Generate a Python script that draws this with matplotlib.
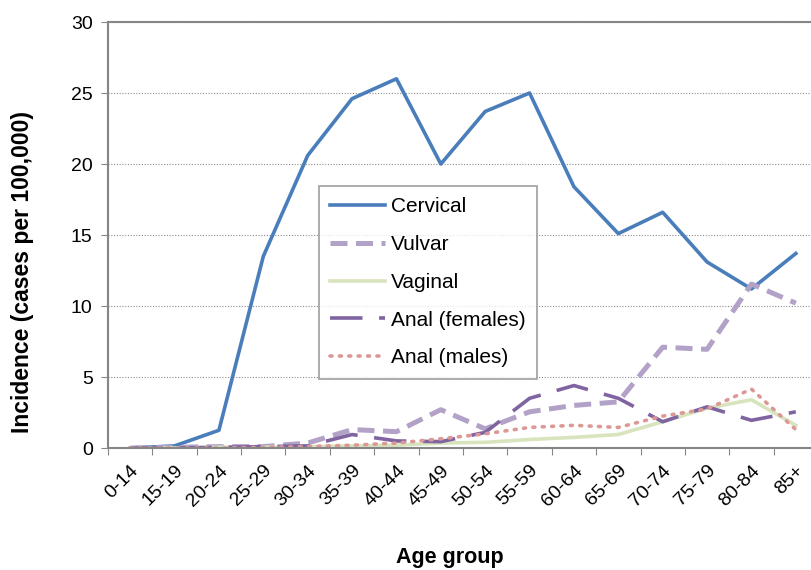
import numpy as np
import matplotlib.pyplot as plt
from matplotlib.ticker import FixedLocator

plt.rcParams['font.family'] = ['Liberation Sans', 'DejaVu Sans']

age_groups = ['0-14', '15-19', '20-24', '25-29', '30-34', '35-39', '40-44', '45-49',
              '50-54', '55-59', '60-64', '65-69', '70-74', '75-79', '80-84', '85+']

cervical = [0.0, 0.15, 1.25, 13.5, 20.6, 24.6, 26.0, 20.0,
            23.7, 25.0, 18.4, 15.1, 16.6, 13.1, 11.2, 13.7]
vulvar = [0.0, 0.05, 0.1, 0.1, 0.35, 1.3, 1.15, 2.7,
          1.35, 2.55, 3.0, 3.25, 7.1, 6.95, 11.55, 10.2]
vaginal = [0.0, 0.0, 0.05, 0.05, 0.1, 0.15, 0.2, 0.35,
           0.4, 0.6, 0.75, 0.95, 1.85, 2.8, 3.4, 1.6]
anal_f = [0.0, 0.0, 0.05, 0.1, 0.15, 0.95, 0.5, 0.45,
          1.1, 3.5, 4.4, 3.5, 1.85, 2.9, 1.95, 2.55]
anal_m = [0.0, 0.0, 0.0, 0.05, 0.1, 0.2, 0.35, 0.65,
          1.0, 1.45, 1.6, 1.45, 2.25, 2.75, 4.15, 1.3]

x = np.arange(len(age_groups))

fig = plt.figure(figsize=(8.12, 5.70), dpi=100)
ax = fig.add_axes([0.133, 0.214, 0.8744, 0.7474])

lw = 2.6
ax.plot(x, cervical, color='#4A7EBB', lw=lw, label='Cervical')
ax.plot(x, vulvar, color='#B3A2C7', lw=lw + 1, ls=(0, (3.4, 1.7)), label='Vulvar')
ax.plot(x, vaginal, color='#D7E4BD', lw=lw, label='Vaginal')
ax.plot(x, anal_f, color='#7F64A1', lw=lw, ls=(0, (9, 4.6)), label='Anal (females)')
ax.plot(x, anal_m, color='#DC9896', lw=lw, ls=(0, (0.55, 2.05)),
        dash_capstyle='round', label='Anal (males)')

ax.set_xlim(-0.5, len(age_groups) - 0.5)
ax.set_ylim(0, 30)
ax.set_yticks(range(0, 31, 5))
ax.tick_params(axis='y', labelsize=14, length=5, color='#868686', pad=6)

# boundaries between categories get the tick marks, labels sit on the centres
ax.xaxis.set_major_locator(FixedLocator(np.arange(-0.5, len(age_groups), 1.0)))
ax.xaxis.set_minor_locator(FixedLocator(x))
ax.set_xticklabels([], minor=False)
ax.set_xticklabels(age_groups, minor=True, rotation=45, ha='right',
                   rotation_mode='anchor', fontsize=14)
ax.tick_params(axis='x', which='major', length=5, color='#868686')
ax.tick_params(axis='x', which='minor', length=0, pad=10)

ax.yaxis.grid(True, ls=(0, (1, 1.5)), color='#8C8C8C', lw=0.8)
ax.set_axisbelow(True)
for s in ax.spines.values():
    s.set_color('#868686')
    s.set_linewidth(1.5)

fig.text(0.028, 0.522, 'Incidence (cases per 100,000)', fontsize=16.5, fontweight='bold',
         rotation=90, ha='center', va='center')
fig.text(0.554, 0.012, 'Age group', fontsize=15.5, fontweight='bold', ha='center')

leg = ax.legend(loc='upper left', bbox_to_anchor=(319 / 812, 1 - 186 / 570),
                bbox_transform=fig.transFigure, fontsize=15, frameon=True,
                fancybox=False, handlelength=2.6, handletextpad=0.3,
                labelspacing=0.9, borderpad=0.55, borderaxespad=0)
leg.get_frame().set_edgecolor('#868686')
leg.get_frame().set_linewidth(1.2)

fig.savefig('out.png', dpi=100)
